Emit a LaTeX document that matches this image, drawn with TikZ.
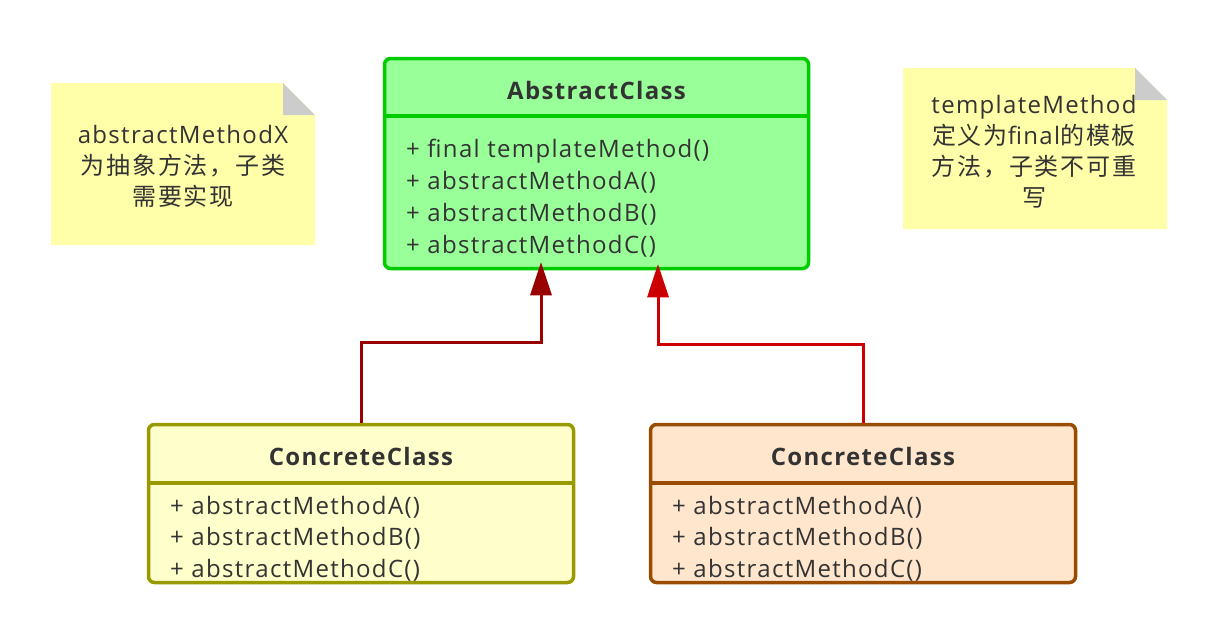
\documentclass[tikz,border=0pt]{standalone}
\usepackage{fontspec}
\setmainfont{Open Sans}[LetterSpace=5.5]
\newfontfamily\cjk{Noto Sans CJK SC}[LetterSpace=8]
\usetikzlibrary{arrows.meta,calc}
\definecolor{txt}{HTML}{333333}
\definecolor{acfill}{HTML}{99FF99}
\definecolor{acline}{HTML}{00CC00}
\definecolor{ccafill}{HTML}{FFFFCC}
\definecolor{ccaline}{HTML}{999900}
\definecolor{ccbfill}{HTML}{FFE6CC}
\definecolor{ccbline}{HTML}{994C00}
\definecolor{notefill}{HTML}{FFFFAA}
\definecolor{foldgray}{HTML}{CCCCCC}
\definecolor{arrowL}{HTML}{990000}
\definecolor{arrowR}{HTML}{CC0000}
\tikzset{
  classbox/.style={rectangle, rounded corners=6pt, line width=3.5pt, inner sep=0pt},
  divider/.style={line width=3.5pt},
  classtitle/.style={anchor=base, inner sep=0pt, text=txt, font=\fontsize{24}{30}\selectfont\bfseries},
  member/.style={anchor=base west, inner sep=0pt, text=txt, font=\fontsize{24}{30}\selectfont},
  notetext/.style={anchor=base, inner sep=0pt, text=txt, font=\fontsize{24}{30}\selectfont},
  inherit/.style={line width=3pt, -{Triangle[length=33pt,width=21pt]}},
}
\begin{document}
\begin{tikzpicture}[x=1pt,y=-1pt]
\useasboundingbox (0,0) rectangle (1216,625);
\fill[white] (0,0) rectangle (1216,625);

% notes
\fill[notefill] (51,83) -- (283,83) -- (315,115) -- (315,245) -- (51,245) -- cycle;
\fill[foldgray] (283,83) -- (283,115) -- (315,115) -- cycle;
\node[notetext] (n1a) at (183,143) {abstractMethodX};
\node[notetext] (n1b) at (183,174) {\cjk 为抽象方法，子类};
\node[notetext] (n1c) at (183,205) {\cjk 需要实现};

\fill[notefill] (903,68) -- (1135,68) -- (1167,100) -- (1167,229) -- (903,229) -- cycle;
\fill[foldgray] (1135,68) -- (1135,100) -- (1167,100) -- cycle;
\node[notetext] (n2a) at (1034,113) {templateMethod};
\node[notetext] (n2b) at (1034,144) {{\cjk 定义为}final{\cjk 的模板}};
\node[notetext] (n2c) at (1034,175) {\cjk 方法，子类不可重};
\node[notetext] (n2d) at (1034,206) {\cjk 写};

% abstract class
\node[classbox, draw=acline, fill=acfill, minimum width=424pt, minimum height=210pt] (ac) at (596.5,163.5) {};
\draw[divider, acline] (ac.west |- 0,116) -- (ac.east |- 0,116);
\node[classtitle] (act) at (596.5,99) {AbstractClass};
\node[member] (ac1) at (406,157) {+ final templateMethod()};
\node[member] (ac2) at (406,189) {+ abstractMethodA()};
\node[member] (ac3) at (406,221) {+ abstractMethodB()};
\node[member] (ac4) at (406,253) {+ abstractMethodC()};

% concrete class 1
\node[classbox, draw=ccaline, fill=ccafill, minimum width=425pt, minimum height=158pt] (cca) at (361,503.5) {};
\draw[divider, ccaline] (cca.west |- 0,483) -- (cca.east |- 0,483);
\node[classtitle] (ccat) at (361,465) {ConcreteClass};
\node[member] (cca1) at (170,514) {+ abstractMethodA()};
\node[member] (cca2) at (170,545) {+ abstractMethodB()};
\node[member] (cca3) at (170,577) {+ abstractMethodC()};

% concrete class 2
\node[classbox, draw=ccbline, fill=ccbfill, minimum width=425pt, minimum height=158pt] (ccb) at (863,503.5) {};
\draw[divider, ccbline] (ccb.west |- 0,483) -- (ccb.east |- 0,483);
\node[classtitle] (ccbt) at (863,465) {ConcreteClass};
\node[member] (ccb1) at (672,514) {+ abstractMethodA()};
\node[member] (ccb2) at (672,545) {+ abstractMethodB()};
\node[member] (ccb3) at (672,577) {+ abstractMethodC()};

% connectors
\coordinate (tipL) at ($(ac.south)+(-55.5,-8)$);
\coordinate (tipR) at ($(ac.south)+(61.5,-6)$);
\draw[inherit, arrowL] (cca.north) -- ++(0,-80) -| (tipL);
\draw[inherit, arrowR] (ccb.north) -- ++(0,-78) -| (tipR);
\end{tikzpicture}
\end{document}
